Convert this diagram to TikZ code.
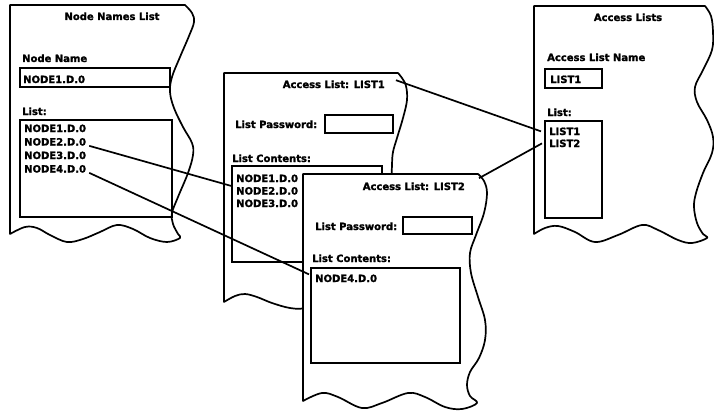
\documentclass[tikz,border=0pt]{standalone}
\usepackage{fontspec}
\setmainfont[BoldFeatures={FakeBold=1.6}]{DejaVu Sans}
\begin{document}
\begin{tikzpicture}[x=1pt,y=-1pt,
  panel/.style={line width=1.7pt, fill=white, line join=round},
  box/.style={line width=1.7pt},
  txt/.style={inner sep=0pt, font=\fontsize{10}{12}\selectfont\bfseries},
  wire/.style={line width=1.7pt}]
\useasboundingbox (0,0) rectangle (714,412);

% ---------- Panel 1: Node Names List ----------
\draw[panel] (10,5) -- (185,5) -- plot[smooth,tension=.6] coordinates {(185,5) (192,13) (194,22) (189,36) (180,57) (172,77) (170,92) (174,108) (183,127) (192,143) (193,155) (188,173) (178,197) (172,213) (173,224) (178,234) (180,238)
 (167,242) (150,238) (133,229) (117,225) (100,232) (83,239) (67,242) (50,235) (37,228) (25,227) (10,234)} -- cycle;
\node[txt, anchor=base] (t1) at (112,20) {Node Names List};
\node[txt, anchor=base west] (l1a) at (22,62) {Node Name};
\draw[box] (20,68) rectangle (170,87);
\node[txt, anchor=base west] (nn1) at (23,83) {NODE1.D.0};
\node[txt, anchor=base west] (l1b) at (22,115) {List:};
\draw[box] (20,120) rectangle (172,217);
\node[txt, anchor=base west] (a1) at (24,132) {NODE1.D.0};
\node[txt, anchor=base west] (a2) at (24,145.5) {NODE2.D.0};
\node[txt, anchor=base west] (a3) at (24,159) {NODE3.D.0};
\node[txt, anchor=base west] (a4) at (24,172.5) {NODE4.D.0};

% ---------- Panel 2: Access List: LIST1 ----------
\draw[panel] (224,73) -- (398,73) -- plot[smooth,tension=.6] coordinates {(398,73) (402,78) (406,86) (407,100) (403,118) (397,138) (393,152) (392,165) (392,185) (396,230) (400,270) (397,298)
 (385,305) (365,303) (345,296) (325,300) (305,308) (290,308) (272,303) (257,297) (245,294) (235,296) (224,302)} -- cycle;
\node[txt, anchor=base east] (t2) at (385,88) {Access List: LIST1};
\node[txt, anchor=base west] (pw2) at (235,128) {List Password:};
\draw[box] (325,115) rectangle (393,133);
\node[txt, anchor=base west] (lc2) at (232,162) {List Contents:};
\draw[box] (232,166) rectangle (382,262);
\node[txt, anchor=base west] (b1) at (236,182) {NODE1.D.0};
\node[txt, anchor=base west] (b2) at (236,194.5) {NODE2.D.0};
\node[txt, anchor=base west] (b3) at (236,207) {NODE3.D.0};

% ---------- Panel 3: Access List: LIST2 ----------
\draw[panel] (303,174) -- (478,174) -- plot[smooth,tension=.6] coordinates {(478,174) (484,181) (487,193) (484,213) (476,235) (470,253) (471,273) (478,297) (485,320) (485,340) (479,358) (470,372) (467,385) (470,396) (477,403)
 (462,409) (445,407) (425,397) (408,393) (382,403) (362,408) (338,397) (322,393) (303,401)} -- cycle;
\node[txt, anchor=base east] (t3) at (465,190) {Access List: LIST2};
\node[txt, anchor=base west] (pw3) at (315,230) {List Password:};
\draw[box] (403,217) rectangle (472,234);
\node[txt, anchor=base west] (lc3) at (312,262) {List Contents:};
\draw[box] (311,268) rectangle (460,363);
\node[txt, anchor=base west] (c4) at (315,282) {NODE4.D.0};

% ---------- Panel 4: Access Lists ----------
\draw[panel] (534,6) -- (705,6) -- plot[smooth,tension=.6] coordinates {(705,6) (711,16) (713,32) (712,50) (703,70) (695,87) (697,102) (707,120) (713,137) (712,153) (703,173) (696,193) (694,207) (697,223) (703,234) (707,238)
 (692,243) (678,240) (658,230) (642,225) (618,235) (595,242) (575,232) (558,226) (545,228) (534,234)} -- cycle;
\node[txt, anchor=base] (t4) at (628,21) {Access Lists};
\node[txt, anchor=base west] (l4a) at (547,61) {Access List Name};
\draw[box] (545,69) rectangle (602,88);
\node[txt, anchor=base west] (nm4) at (550,83) {LIST1};
\node[txt, anchor=base west] (l4b) at (547,116) {List:};
\draw[box] (545,121) rectangle (602,218);
\node[txt, anchor=base west] (d1) at (549,135) {LIST1};
\node[txt, anchor=base west] (d2) at (549,147) {LIST2};

% ---------- connectors ----------
\draw[wire] ([xshift=3pt]a2.south east) -- ([xshift=-5pt,yshift=1pt]b2.north west);
\draw[wire] ([xshift=3pt]a4.south east) -- ([xshift=-6pt]c4.north west);
\draw[wire] ([xshift=11pt,yshift=0pt]t2.north east) -- ([xshift=-8pt]d1.west);
\draw[wire] ([xshift=14pt,yshift=4pt]t3.north east) -- ([xshift=-7pt]d2.west);
\end{tikzpicture}
\end{document}
